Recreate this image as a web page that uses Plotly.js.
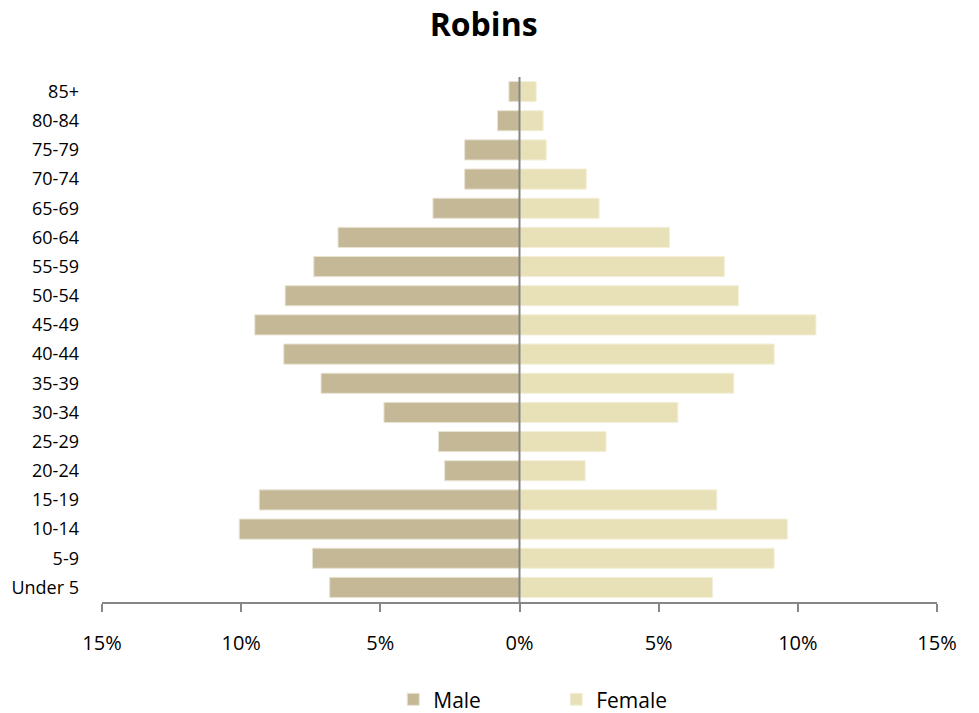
<!DOCTYPE html>
<html>
<head>
<meta charset="utf-8">
<script src="https://cdn.plot.ly/plotly-3.0.1.min.js"></script>
<style>html,body{margin:0;padding:0;background:#fff;}#chart{width:979px;height:713px;}</style>
</head>
<body>
<div id="chart"></div>
<script>
const ageGroups = ["Under 5","5-9","10-14","15-19","20-24","25-29","30-34","35-39","40-44","45-49","50-54","55-59","60-64","65-69","70-74","75-79","80-84","85+"];
const malePct   = [6.82, 7.44, 10.07, 9.35, 2.69, 2.91, 4.87, 7.13, 8.47, 9.51, 8.42, 7.39, 6.52, 3.11, 1.97, 1.97, 0.79, 0.38];
const femalePct = [6.94, 9.15, 9.62, 7.09, 2.36, 3.11, 5.69, 7.70, 9.15, 10.65, 7.87, 7.36, 5.39, 2.86, 2.40, 0.96, 0.85, 0.60];
const tickVals = [-15, -10, -5, 0, 5, 10, 15];
const tickText = ["15%", "10%", "5%", "0%", "5%", "10%", "15%"];

const FONT = "'Open Sans', Carlito, sans-serif";

const traces = [
  {
    type: "bar", orientation: "h", name: "Male",
    y: ageGroups, x: malePct.map(v => -v),
    marker: {color: "#c4b896", line: {color: "#e9e3d3", width: 1}},
    hoverinfo: "skip"
  },
  {
    type: "bar", orientation: "h", name: "Female",
    y: ageGroups, x: femalePct,
    marker: {color: "#e8e1b8", line: {color: "#f3efd9", width: 1}},
    hoverinfo: "skip"
  }
];

const layout = {
  width: 979, height: 713,
  paper_bgcolor: "#fff", plot_bgcolor: "#fff",
  font: {family: FONT, color: "#000"},
  margin: {l: 102, r: 42, t: 77, b: 111, autoexpand: false},
  title: {text: "<b>Robins</b>", font: {size: 32, family: FONT, color: "#000"}, x: 0.494, xref: "container", y: 0.965, yref: "container", yanchor: "middle"},
  barmode: "relative",
  bargap: 0.31,
  showlegend: true,
  legend: {orientation: "h", x: 0.544, xanchor: "center", xref: "paper", y: -0.186, yanchor: "middle", font: {size: 21, family: FONT}, itemwidth: 30, entrywidth: 118, entrywidthmode: "pixels", traceorder: "normal"},
  xaxis: {
    range: [-15, 15], tickvals: tickVals, ticktext: tickText,
    showgrid: false, zeroline: false, automargin: false,
    showline: true, linecolor: "#868686", linewidth: 2,
    ticks: "outside", ticklen: 8, tickcolor: "#868686", tickwidth: 2,
    ticklabelstandoff: 14,
    tickfont: {size: 20, family: FONT},
    fixedrange: true
  },
  yaxis: {
    type: "category", categoryorder: "array", categoryarray: ageGroups,
    showgrid: false, zeroline: false, showline: false, ticks: "", automargin: false,
    ticklabelstandoff: 22,
    tickfont: {size: 18, family: FONT},
    fixedrange: true
  },
  shapes: [
    {type: "line", layer: "above", xref: "x", yref: "paper", x0: 0, x1: 0, y0: 0, y1: 1, line: {color: "#868686", width: 2}}
  ]
};

Plotly.newPlot("chart", traces, layout, {displayModeBar: false, staticPlot: true});
</script>
</body>
</html>
